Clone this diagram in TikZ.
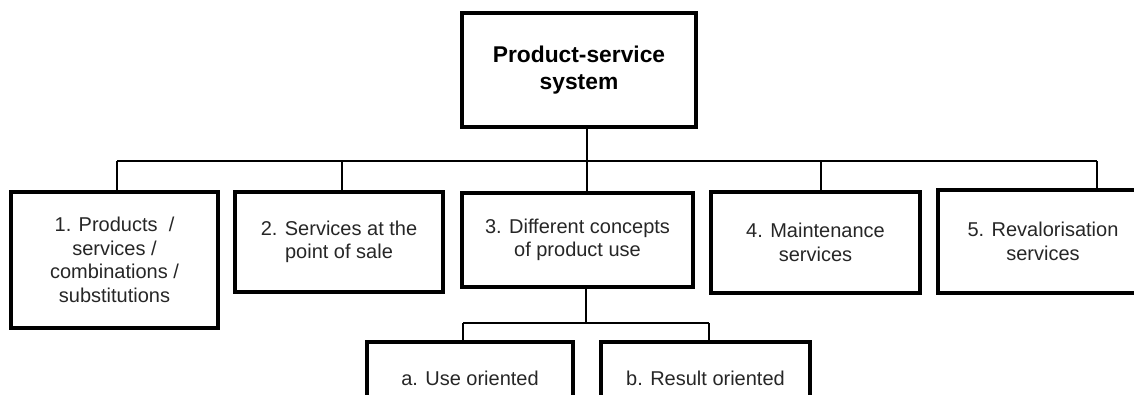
\documentclass[tikz,border=0pt]{standalone}
\usepackage{fontspec}
\setmainfont{Liberation Sans}
\tikzset{
  box/.style={draw, line width=3.2pt, rectangle, inner sep=0pt, align=center,
    font=\fontsize{20}{23.5}\selectfont, text=black!85},
  titlebox/.style={box, text=black, font=\fontsize{22.8}{27}\selectfont\bfseries},
  conn/.style={line width=1.5pt}
}
\begin{document}
\begin{tikzpicture}[x=1pt,y=-1pt]
\useasboundingbox (0,0) rectangle (1134,394);
\clip (0,0) rectangle (1134,394);
\node[titlebox, minimum width=234pt, minimum height=114pt] (top) at (579,70) {Product-service\\system};
\node[box, minimum width=207pt, minimum height=136pt] (b1) at (114.5,260) {1. Products~~/\\services /\\combinations /\\substitutions};
\node[box, minimum width=208pt, minimum height=100pt] (b2) at (339,242) {2. Services at the\\point of sale};
\node[box, minimum width=231pt, minimum height=94pt] (b3) at (577.5,240) {3. Different concepts\\of product use};
\node[box, minimum width=209pt, minimum height=101pt] (b4) at (815.5,242.5) {4. Maintenance\\services};
\node[box, minimum width=210pt, minimum height=103pt] (b5) at (1043,241.5) {5. Revalorisation\\services};
\node[box, minimum width=206pt, minimum height=72pt] (ba) at (470,378) {a. Use oriented};
\node[box, minimum width=209pt, minimum height=72pt] (bb) at (705.5,378) {b. Result oriented};
\coordinate (bus1) at (117,161);
\coordinate (bus2) at (342,161);
\coordinate (busC) at (587,161);
\coordinate (bus4) at (821,161);
\coordinate (bus5) at (1097,161);
\draw[conn] (bus1) -- (bus5);
\draw[conn] (top.south -| busC) -- (b3.north -| busC);
\draw[conn] (bus1) -- (bus1 |- b1.north);
\draw[conn] (bus2) -- (bus2 |- b2.north);
\draw[conn] (bus4) -- (bus4 |- b4.north);
\draw[conn] (bus5) -- (bus5 |- b5.north);
\coordinate (sa) at (463,323);
\coordinate (sb) at (709,323);
\coordinate (sc) at (586,323);
\draw[conn] (b3.south -| sc) -- (sc);
\draw[conn] (sa) -- (sb);
\draw[conn] (sa) -- (sa |- ba.north);
\draw[conn] (sb) -- (sb |- bb.north);
\end{tikzpicture}
\end{document}
